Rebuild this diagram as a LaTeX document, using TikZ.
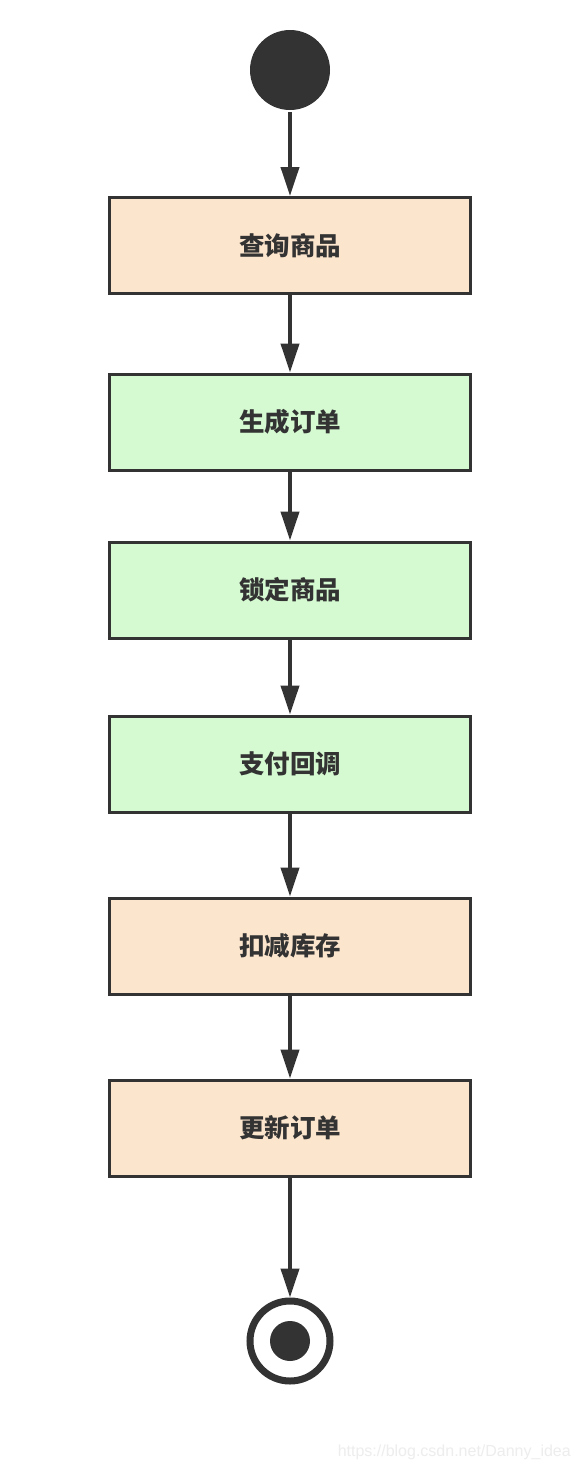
\documentclass[tikz,border=0pt]{standalone}
\usepackage{fontspec}
\newfontfamily\cjk{Noto Sans CJK SC}
\setsansfont{Liberation Sans}
\usetikzlibrary{arrows.meta}
\definecolor{ink}{HTML}{333333}
\definecolor{peach}{HTML}{FCE5CD}
\definecolor{mint}{HTML}{D5FAD1}
\definecolor{wm}{HTML}{EDEDED}
\begin{document}
\begin{tikzpicture}[x=1pt,y=-1pt,
  stepbox/.style={draw=ink, line width=3pt, minimum width=361pt, minimum height=96pt,
    inner sep=0pt, font=\cjk\bfseries\fontsize{25.5pt}{30pt}\selectfont, text=ink},
  flow/.style={draw=ink, line width=4pt, -{Triangle[length=29pt,width=18pt]}, shorten >=0pt}]
\useasboundingbox (0,0) rectangle (580,1470);
\fill[white] (0,0) rectangle (580,1470);
\node[circle, fill=ink, minimum size=80pt, inner sep=0pt] (start) at (290,70) {};
\node[stepbox, fill=peach] (b1) at (290,245.5) {查询商品};
\node[stepbox, fill=mint] (b2) at (290,422) {生成订单};
\node[stepbox, fill=mint] (b3) at (290,590) {锁定商品};
\node[stepbox, fill=mint] (b4) at (290,764) {支付回调};
\node[stepbox, fill=peach] (b5) at (290,946) {扣减库存};
\node[stepbox, fill=peach] (b6) at (290,1128) {更新订单};
\node[circle, draw=ink, line width=7pt, fill=white, minimum size=80pt, inner sep=0pt] (end) at (290,1341) {};
\node[circle, fill=ink, minimum size=40pt, inner sep=0pt] (endin) at (290,1341) {};
\draw[flow] (start.south) ++(0,2) -- (b1.north);
\draw[flow] (b1.south) -- (b2.north);
\draw[flow] (b2.south) -- (b3.north);
\draw[flow] (b3.south) -- (b4.north);
\draw[flow] (b4.south) -- (b5.north);
\draw[flow] (b5.south) -- (b6.north);
\draw[flow] (b6.south) -- (end.north);
\node[anchor=east, text=wm, font=\sffamily\fontsize{16pt}{18pt}\selectfont, inner sep=0pt] (wmark) at (571,1452) {https://blog.csdn.net/Danny\_idea};
\end{tikzpicture}
\end{document}
